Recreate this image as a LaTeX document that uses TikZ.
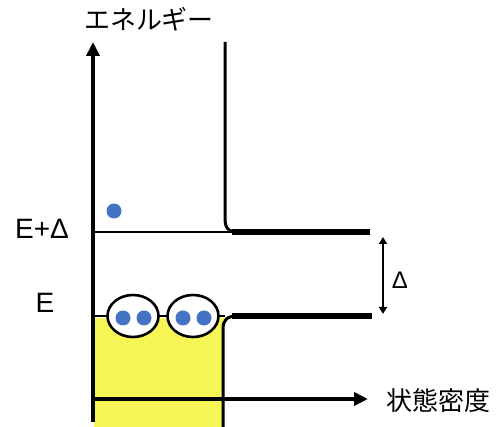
\documentclass[tikz,border=0pt]{standalone}
\usepackage{fontspec}
\setmainfont{Liberation Sans}
\newfontfamily\jp{Noto Sans CJK JP}
\usetikzlibrary{arrows.meta,shapes.geometric}
\definecolor{dotblue}{RGB}{68,114,196}
\definecolor{fillyellow}{RGB}{245,245,85}
\tikzset{
  axisline/.style={line width=3.5pt,-{Triangle[length=14pt,width=13pt]}},
  thinlevel/.style={line width=2.6pt},
  dosline/.style={line width=3pt},
  thicklevel/.style={line width=5.5pt},
  pairbox/.style={ellipse,draw,line width=2.6pt,fill=white,minimum width=51pt,minimum height=42pt,inner sep=0pt},
  electron/.style={circle,fill=dotblue,minimum size=15pt,inner sep=0pt},
  lbl/.style={inner sep=0pt,font=\fontsize{28}{30}\selectfont},
  jplbl/.style={inner sep=0pt,font=\jp\fontsize{26}{28}\selectfont},
}
\begin{document}
\begin{tikzpicture}[x=1pt,y=-1pt]
\useasboundingbox (0,0) rectangle (496,427);
% coordinates
\coordinate (O) at (93,422);
\coordinate (Ytip) at (93,42);
\coordinate (Xs) at (93,399);
\coordinate (Xtip) at (368,399);
\coordinate (Ea) at (93,316);
\coordinate (Eb) at (225,316);
\coordinate (EDa) at (93,232);
\coordinate (EDb) at (232,232);
\coordinate (UpTop) at (225,42);
\coordinate (UpBend) at (225,218);
\coordinate (UpEnd) at (238,232);
\coordinate (UpThickS) at (232,232);
\coordinate (UpThickE) at (370,232);
\coordinate (LoBot) at (223,427);
\coordinate (LoBend) at (223,329);
\coordinate (LoEnd) at (237,316);
\coordinate (LoThickS) at (232,316);
\coordinate (LoThickE) at (372,316);
\coordinate (Dtop) at (383,237);
\coordinate (Dbot) at (383,314);
% yellow filled states
\fill[fillyellow] (94,318) rectangle (223,427);
\fill[fillyellow] (222,318) -- (234,318) .. controls (226,319) and (223,322) .. (223,330) -- cycle;
% levels
\draw[thinlevel] (EDa) -- (EDb);
\draw[thinlevel] (Ea) -- (Eb);
% density of states curves
\draw[dosline] (UpTop) -- (UpBend) .. controls (225,228) and (228,232) .. (UpEnd);
\draw[thicklevel] (UpThickS) -- (UpThickE);
\draw[dosline] (LoBot) -- (LoBend) .. controls (223,320) and (227,316) .. (LoEnd);
\draw[thicklevel] (LoThickS) -- (LoThickE);
% axes
\draw[axisline] (O) -- (Ytip);
\draw[axisline] (Xs) -- (Xtip);
% gap arrow
\draw[line width=2.2pt,{Triangle[length=7pt,width=8pt]}-{Triangle[length=7pt,width=8pt]}] (Dtop) -- (Dbot);
% pairs
\node[pairbox] (p1) at (133,316) {};
\node[pairbox] (p2) at (193,316) {};
\node[electron] (e1) at (123,318) {};
\node[electron] (e2) at (144,318) {};
\node[electron] (e3) at (183,318) {};
\node[electron] (e4) at (204,318) {};
\node[electron] (e5) at (114,211) {};
% labels
\node[jplbl] (ylab) at (149,19) {エネルギー};
\node[jplbl] (xlab) at (438,401) {状態密度};
\node[lbl] (ed) at (42,229) {E+Δ};
\node[lbl] (e) at (45,303) {E};
\node[lbl,font=\fontsize{24}{26}\selectfont] (d) at (400,280) {Δ};
\end{tikzpicture}
\end{document}
